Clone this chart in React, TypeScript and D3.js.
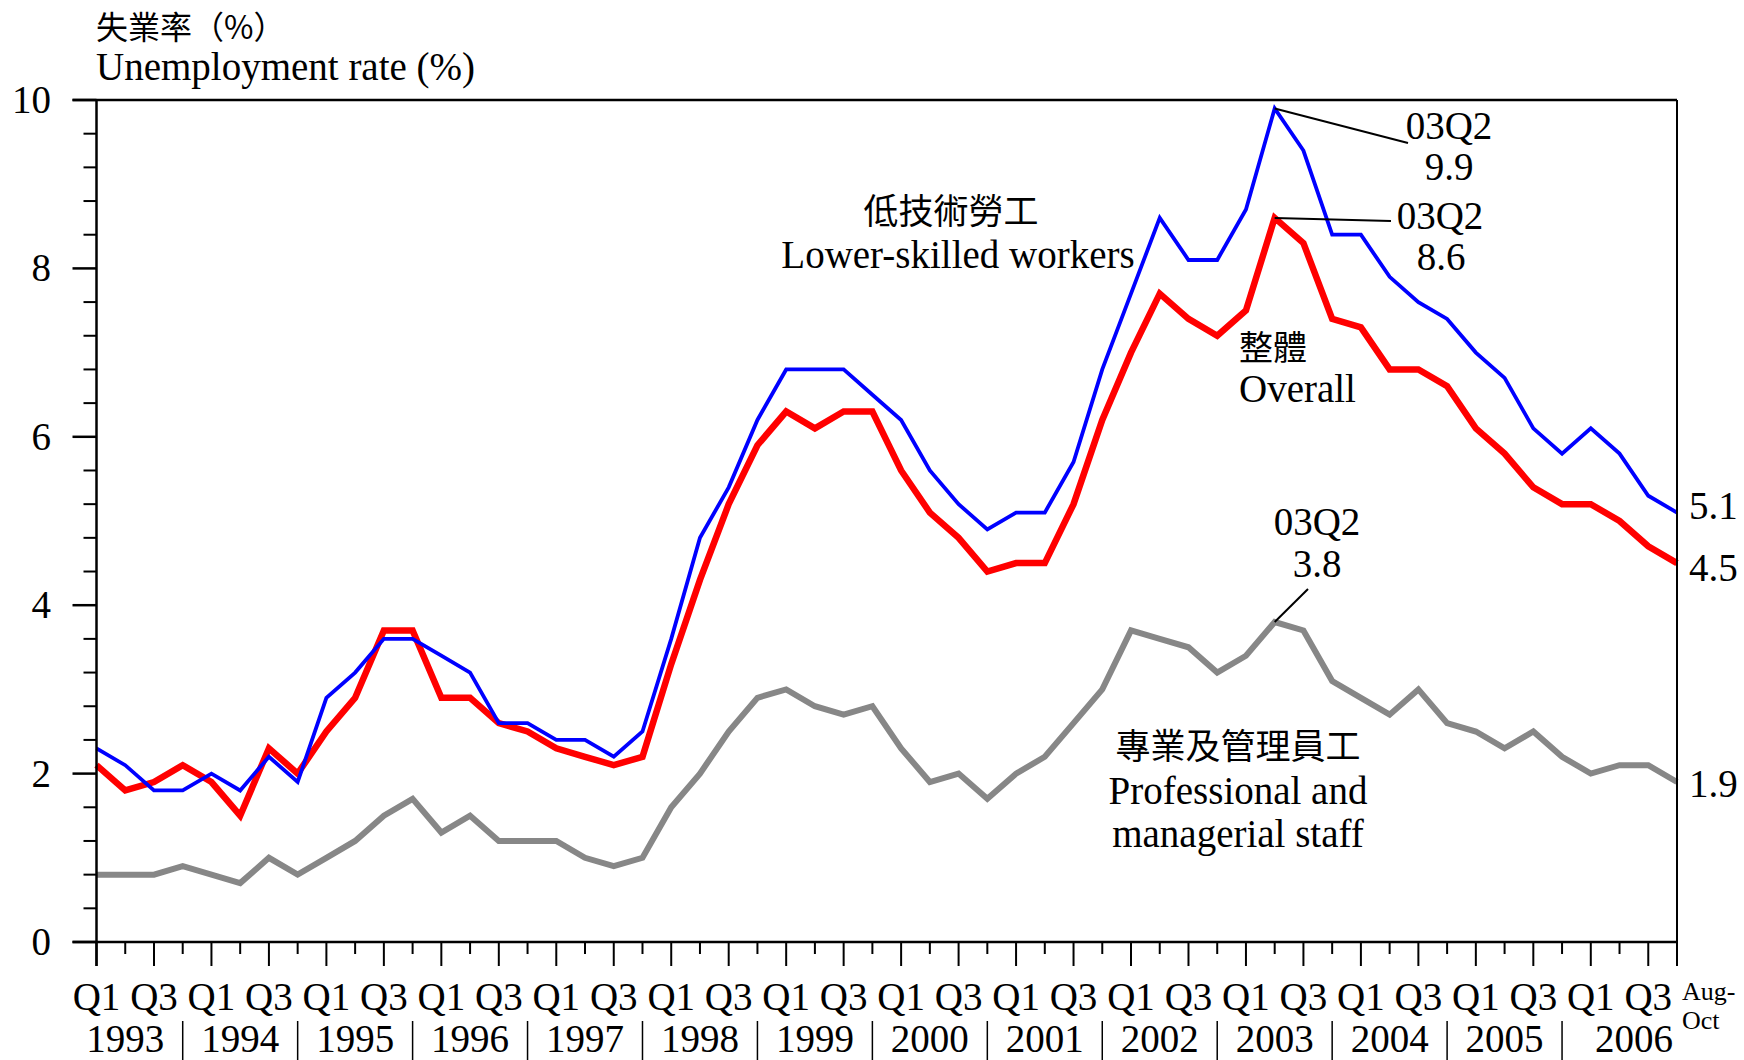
import React from "react";
import * as d3 from "d3";

const years = [1993, 1994, 1995, 1996, 1997, 1998, 1999, 2000, 2001, 2002, 2003, 2004, 2005, 2006];
const periods = years.flatMap((y) =>
  y === 2006 ? [`${y}Q1`, `${y}Q2`, `${y}Q3`, "2006 Aug-Oct"] : [`${y}Q1`, `${y}Q2`, `${y}Q3`, `${y}Q4`]
);
const yTicks = [0, 2, 4, 6, 8, 10];

const lowerSkilled = [
  2.3, 2.1, 1.8, 1.8, 2.0, 1.8, 2.2, 1.9, 2.9, 3.2, 3.6, 3.6, 3.4, 3.2, 2.6, 2.6,
  2.4, 2.4, 2.2, 2.5, 3.6, 4.8, 5.4, 6.2, 6.8, 6.8, 6.8, 6.5, 6.2, 5.6, 5.2, 4.9,
  5.1, 5.1, 5.7, 6.8, 7.7, 8.6, 8.1, 8.1, 8.7, 9.9, 9.4, 8.4, 8.4, 7.9, 7.6, 7.4,
  7.0, 6.7, 6.1, 5.8, 6.1, 5.8, 5.3, 5.1,
];
const overall = [
  2.1, 1.8, 1.9, 2.1, 1.9, 1.5, 2.3, 2.0, 2.5, 2.9, 3.7, 3.7, 2.9, 2.9, 2.6, 2.5,
  2.3, 2.2, 2.1, 2.2, 3.3, 4.3, 5.2, 5.9, 6.3, 6.1, 6.3, 6.3, 5.6, 5.1, 4.8, 4.4,
  4.5, 4.5, 5.2, 6.2, 7.0, 7.7, 7.4, 7.2, 7.5, 8.6, 8.3, 7.4, 7.3, 6.8, 6.8, 6.6,
  6.1, 5.8, 5.4, 5.2, 5.2, 5.0, 4.7, 4.5,
];
const professional = [
  0.8, 0.8, 0.8, 0.9, 0.8, 0.7, 1.0, 0.8, 1.0, 1.2, 1.5, 1.7, 1.3, 1.5, 1.2, 1.2,
  1.2, 1.0, 0.9, 1.0, 1.6, 2.0, 2.5, 2.9, 3.0, 2.8, 2.7, 2.8, 2.3, 1.9, 2.0, 1.7,
  2.0, 2.2, 2.6, 3.0, 3.7, 3.6, 3.5, 3.2, 3.4, 3.8, 3.7, 3.1, 2.9, 2.7, 3.0, 2.6,
  2.5, 2.3, 2.5, 2.2, 2.0, 2.1, 2.1, 1.9,
];

const W = 1744;
const H = 1060;
const LATIN = "'Liberation Serif', 'Times New Roman', serif";
const CJK = "'Noto Sans CJK TC', 'Noto Sans CJK SC', sans-serif";

export default function App() {
  const n = periods.length;
  const x = d3.scaleLinear().domain([0, n - 1]).range([96.5, 1677]);
  const y = d3.scaleLinear().domain([0, 10]).range([942, 100]);
  const line = d3
    .line<number>()
    .x((_, i) => x(i))
    .y((d) => y(d));

  const minorTicks = d3.range(0, 10.0001, 0.4).filter((v) => Math.abs(v / 2 - Math.round(v / 2)) > 1e-6);
  const peak = 41;
  const last = n - 1;

  return (
    <svg
      width={W}
      height={H}
      viewBox={`0 0 ${W} ${H}`}
      style={{ position: "absolute", left: 0, top: 0, background: "#fff" }}
    >
      <rect x={0} y={0} width={W} height={H} fill="#fff" />
      {/* titles */}
      <text x={96} y={39} fontFamily={CJK} fontSize={32} fill="#000">
        失業率（%）
      </text>
      <text x={96} y={80} fontFamily={LATIN} fontSize={39} fill="#000">
        Unemployment rate (%)
      </text>

      {/* y ticks */}
      {minorTicks.map((v) => (
        <line key={"m" + v} x1={x(0) - 13} x2={x(0)} y1={y(v)} y2={y(v)} stroke="#000" strokeWidth={2} />
      ))}
      {yTicks.map((v) => (
        <g key={"y" + v}>
          <line x1={x(0) - 24} x2={x(0)} y1={y(v)} y2={y(v)} stroke="#000" strokeWidth={2.5} />
          <text x={51} y={y(v) + 13} textAnchor="end" fontFamily={LATIN} fontSize={39} fill="#000">
            {v}
          </text>
        </g>
      ))}

      {/* x ticks */}
      {periods.map((p, i) => (
        <line
          key={"xt" + i}
          x1={x(i)}
          x2={x(i)}
          y1={y(0)}
          y2={y(0) + (i % 2 === 0 || i === last ? 24 : 12)}
          stroke="#000"
          strokeWidth={2}
        />
      ))}
      {periods.map((p, i) =>
        i % 2 === 0 ? (
          <text key={"xl" + i} x={x(i)} y={1010} textAnchor="middle" fontFamily={LATIN} fontSize={39} fill="#000">
            {i % 4 === 0 ? "Q1" : "Q3"}
          </text>
        ) : null
      )}
      <text x={x(last) + 5} y={1000} fontFamily={LATIN} fontSize={26} fill="#000">
        Aug-
      </text>
      <text x={x(last) + 5} y={1029} fontFamily={LATIN} fontSize={26} fill="#000">
        Oct
      </text>
      {years.map((yr, k) => {
        const cx = yr === 2006 ? (x(4 * k) + x(last)) / 2 : x(4 * k + 1);
        return (
          <g key={"yr" + yr}>
            <text x={cx} y={1052} textAnchor="middle" fontFamily={LATIN} fontSize={39} fill="#000">
              {yr}
            </text>
            {yr !== 2006 && (
              <line x1={x(4 * k + 3)} x2={x(4 * k + 3)} y1={1021} y2={1060} stroke="#000" strokeWidth={1.5} />
            )}
          </g>
        );
      })}

      {/* series */}
      <path d={line(professional) || ""} fill="none" stroke="#878787" strokeWidth={6} strokeLinejoin="miter" />
      <path d={line(overall) || ""} fill="none" stroke="#ff0000" strokeWidth={6.5} strokeLinejoin="miter" />
      <path d={line(lowerSkilled) || ""} fill="none" stroke="#0000ff" strokeWidth={3.8} strokeLinejoin="miter" />

      {/* frame */}
      <line x1={x(0) - 24} x2={x(last)} y1={y(10)} y2={y(10)} stroke="#000" strokeWidth={2.5} />
      <line x1={x(0) - 24} x2={x(last)} y1={y(0)} y2={y(0)} stroke="#000" strokeWidth={2.5} />
      <line x1={x(0)} x2={x(0)} y1={y(10)} y2={y(0) + 24} stroke="#000" strokeWidth={2.5} />
      <line x1={x(last)} x2={x(last)} y1={y(10)} y2={y(0) + 24} stroke="#000" strokeWidth={2} />

      {/* annotations */}
      <line x1={x(peak)} y1={y(lowerSkilled[peak])} x2={1408} y2={143} stroke="#000" strokeWidth={2} />
      <text x={1449} y={139} textAnchor="middle" fontFamily={LATIN} fontSize={39} fill="#000">03Q2</text>
      <text x={1449} y={180} textAnchor="middle" fontFamily={LATIN} fontSize={39} fill="#000">{lowerSkilled[peak].toFixed(1)}</text>

      <line x1={x(peak)} y1={y(overall[peak])} x2={1391} y2={221} stroke="#000" strokeWidth={2} />
      <text x={1440} y={229} textAnchor="middle" fontFamily={LATIN} fontSize={39} fill="#000">03Q2</text>
      <text x={1441} y={270} textAnchor="middle" fontFamily={LATIN} fontSize={39} fill="#000">{overall[peak].toFixed(1)}</text>

      <line x1={x(peak)} y1={y(professional[peak])} x2={1308} y2={589} stroke="#000" strokeWidth={2} />
      <text x={1317} y={535} textAnchor="middle" fontFamily={LATIN} fontSize={39} fill="#000">03Q2</text>
      <text x={1317} y={577} textAnchor="middle" fontFamily={LATIN} fontSize={39} fill="#000">{professional[peak].toFixed(1)}</text>

      <text x={951} y={224} textAnchor="middle" fontFamily={CJK} fontSize={35} fill="#000">低技術勞工</text>
      <text x={958} y={268} textAnchor="middle" fontFamily={LATIN} fontSize={39} fill="#000">Lower-skilled workers</text>

      <text x={1239} y={360} fontFamily={CJK} fontSize={34} fill="#000">整體</text>
      <text x={1239} y={402} fontFamily={LATIN} fontSize={39} fill="#000">Overall</text>

      <text x={1238} y={759} textAnchor="middle" fontFamily={CJK} fontSize={35} fill="#000">專業及管理員工</text>
      <text x={1238} y={804} textAnchor="middle" fontFamily={LATIN} fontSize={39} fill="#000">Professional and</text>
      <text x={1238} y={847} textAnchor="middle" fontFamily={LATIN} fontSize={39} fill="#000">managerial staff</text>

      <text x={1689} y={519} fontFamily={LATIN} fontSize={39} fill="#000">{lowerSkilled[last].toFixed(1)}</text>
      <text x={1689} y={581} fontFamily={LATIN} fontSize={39} fill="#000">{overall[last].toFixed(1)}</text>
      <text x={1689} y={797} fontFamily={LATIN} fontSize={39} fill="#000">{professional[last].toFixed(1)}</text>
    </svg>
  );
}
